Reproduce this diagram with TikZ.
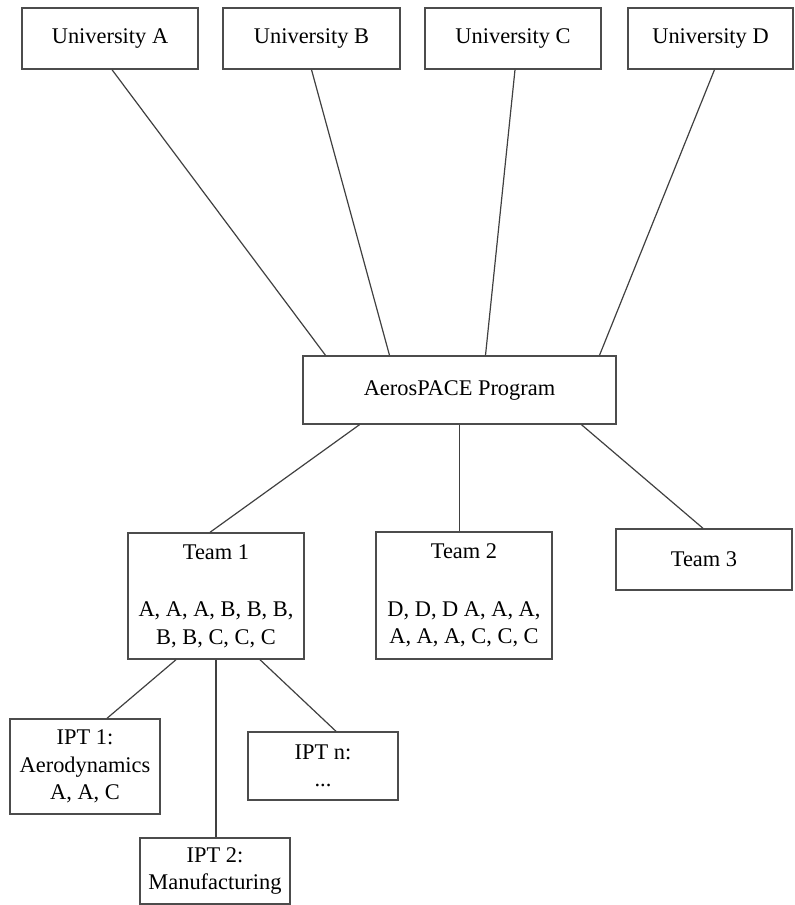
\documentclass[tikz,border=0pt]{standalone}
\usepackage{fontspec}
\setmainfont{Liberation Serif}
\usetikzlibrary{positioning}
\tikzset{
    unit box/.style={
        draw=black!70,line width=.7pt,
        fill=white,align=center,
        minimum height=30.5pt,inner sep=2pt,
        font=\fontsize{11.2}{13.8}\selectfont
    },
    link/.style={draw=black!75,line width=.6pt},
}
\begin{document}
\begin{tikzpicture}[x=.5pt,y=-.5pt]
		\useasboundingbox (0,0) rectangle (794,905);
		\foreach \name/\x/\w in {A/110/88pt,B/311.5/88.5pt,C/513/88pt,D/710.5/82.5pt}
		\node[unit box,minimum width=\w] (uni\name) at (\x,38.5) {University \name};
		\node[unit box,minimum width=156.5pt,minimum height=34pt] (prog) at (459.5,390) {AerosPACE Program};

		\node[unit box,minimum width=88pt,minimum height=63pt] (team1) at (216,596) {Team 1\\[15pt]A, A, A, B, B, B,\\B, B, C, C, C};
		\node[unit box,minimum width=88pt,minimum height=63.5pt] (team2) at (464,595.5) {Team 2\\[15pt]D, D, D A, A, A,\\A, A, A, C, C, C};
		\node[unit box,minimum width=88pt] (team3) at (704,559.5) {Team 3};

		\node[unit box,minimum width=75pt,minimum height=47.5pt] (ipt1) at (85,766.5) {IPT 1:\\Aerodynamics\\A, A, C};
		\node[unit box,minimum width=75pt,minimum height=33pt] (ipt2) at (215,871) {IPT 2:\\Manufacturing};
		\node[unit box,minimum width=75pt,minimum height=34pt] (iptn) at (323,766) {IPT n:\\...};

		\draw[link] ([xshift=1pt]uniA.south) -- ([xshift=-67pt]prog.north);
		\draw[link] (uniB.south) -- ([xshift=-35pt]prog.north);
		\draw[link] ([xshift=1pt]uniC.south) -- ([xshift=13pt]prog.north);
		\draw[link] ([xshift=2pt]uniD.south) -- ([xshift=70pt]prog.north);

		\draw[link] ([xshift=-50pt]prog.south) -- ([xshift=-3pt]team1.north);
		\draw[link] (prog.south) -- (prog.south |- team2.north);
		\draw[link] ([xshift=61pt]prog.south) -- ([xshift=-.5pt]team3.north);

		\draw[link] ([xshift=-20pt]team1.south) -- ([xshift=11pt]ipt1.north);
		\draw[link] (team1.south) -- (team1.south |- ipt2.north);
		\draw[link] ([xshift=22pt]team1.south) -- ([xshift=6.5pt]iptn.north);
	\end{tikzpicture}
\end{document}
